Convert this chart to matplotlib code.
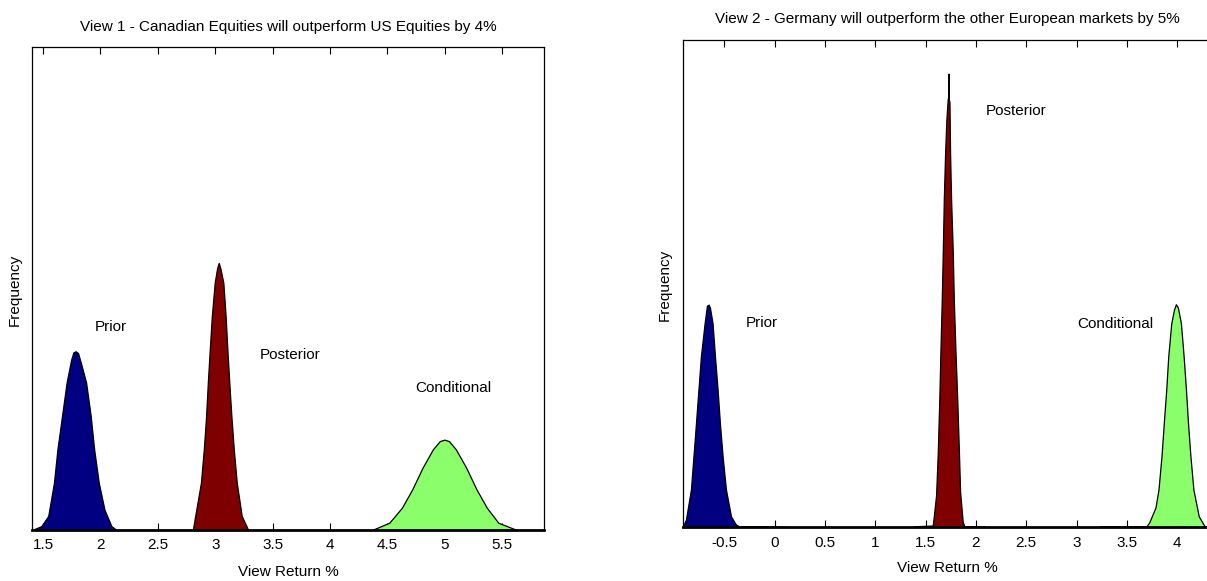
import matplotlib
matplotlib.use("Agg")
import matplotlib.pyplot as plt

plt.rcParams['font.family'] = ['Liberation Sans', 'DejaVu Sans']

# ---------------- View 1 data (View Return %, relative frequency) ----------------
v1_prior_x = [1.42, 1.49, 1.55, 1.60, 1.63, 1.67, 1.71, 1.75, 1.77, 1.79, 1.81,
              1.84, 1.88, 1.92, 1.95, 1.99, 2.04, 2.10, 2.14]
v1_prior_y = [0, 0.7, 2.8, 9.7, 16.6, 23.5, 30.4, 35.2, 36.7, 36.9, 36.5,
              34.0, 30.4, 23.5, 16.6, 9.7, 4.1, 0.7, 0]

v1_post_x = [2.81, 2.83, 2.88, 2.905, 2.925, 2.94, 2.957, 2.975, 3.00, 3.02, 3.035,
             3.05, 3.075, 3.095, 3.11, 3.127, 3.145, 3.166, 3.192, 3.235, 3.29]
v1_post_y = [0, 2.8, 9.7, 16.6, 23.5, 30.4, 37.3, 44.2, 51.1, 54.0, 55.2,
             54.0, 51.1, 44.2, 37.3, 30.4, 23.5, 16.6, 9.7, 2.8, 0]

v1_cond_x = [4.38, 4.52, 4.63, 4.72, 4.81, 4.90, 4.96, 5.00, 5.04, 5.10,
             5.19, 5.28, 5.37, 5.47, 5.61, 5.63]
v1_cond_y = [0, 1.4, 4.5, 8.3, 12.8, 16.6, 18.3, 18.6, 18.3, 16.6,
             12.8, 8.3, 4.5, 1.4, 0.1, 0]

# ---------------- View 2 data ----------------
v2_prior_x = [-0.91, -0.878, -0.828, -0.778, -0.729, -0.692, -0.669, -0.652, -0.639,
              -0.613, -0.589, -0.563, -0.540, -0.513, -0.480, -0.430, -0.381, -0.35,
              0.0, 0.11]
v2_prior_y = [0, 1.5, 7.7, 21.3, 35.0, 41.8, 45.4, 45.6, 45.0,
              41.8, 35.0, 28.2, 21.3, 14.5, 7.7, 2.2, 0.5, 0.15,
              0.15, 0]

v2_post_x = [1.39, 1.576, 1.609, 1.626, 1.642, 1.652, 1.666, 1.676, 1.686, 1.699,
             1.712, 1.725, 1.731, 1.732, 1.733, 1.742, 1.748, 1.758, 1.775, 1.785,
             1.802, 1.818, 1.835, 1.848, 1.874, 1.891, 2.09]
v2_post_y = [0.15, 0.3, 6.5, 15.4, 27.0, 35.9, 47.2, 56.8, 67.4, 76.9,
             83.8, 87.9, 88.0, 93.0, 88.0, 87.2, 76.9, 67.4, 56.4, 46.8,
             35.9, 27.0, 16.1, 7.2, 1.0, 0.15, 0.15]

v2_cond_x = [3.24, 3.70, 3.727, 3.79, 3.82, 3.85, 3.873, 3.897, 3.917, 3.947, 3.973,
             3.993, 4.013, 4.043, 4.07, 4.093, 4.113, 4.137, 4.167, 4.22, 4.277, 4.31]
v2_cond_y = [0.15, 0.15, 0.9, 4.0, 7.7, 14.6, 21.4, 28.2, 35.0, 41.8, 44.5,
             45.7, 45.0, 41.8, 35.0, 28.2, 21.4, 14.6, 7.7, 2.2, 0.2, 0.1]

titles = ["View 1 - Canadian Equities will outperform US Equities by 4%",
          "View 2 - Germany will outperform the other European markets by 5%"]
v1_ticks = [1.5, 2, 2.5, 3, 3.5, 4, 4.5, 5, 5.5]
v1_ticklabels = ["1.5", "2", "2.5", "3", "3.5", "4", "4.5", "5", "5.5"]
v2_ticks = [-0.5, 0, 0.5, 1, 1.5, 2, 2.5, 3, 3.5, 4]
v2_ticklabels = ["-0.5", "0", "0.5", "1", "1.5", "2", "2.5", "3", "3.5", "4"]
series_names = ["Prior", "Posterior", "Conditional"]
colors = ["#000080", "#7F0000", "#8BFF6B"]

FS = 11

fig = plt.figure(figsize=(12.07, 5.81), dpi=100)
fig.patch.set_facecolor("white")

ax1 = fig.add_axes([0.02676, 0.0878, 0.4239, 0.8313])
ax2 = fig.add_axes([0.5656, 0.0921, 0.4388, 0.8391])


def draw(ax, series, xlim, ticks, ticklabels, title, label_pos, ylab_pos, title_y, xlab_y):
    for (xs, ys), c in zip(series, colors):
        ax.fill_between(xs, ys, 0, facecolor=c, edgecolor="none", zorder=2)
        ax.plot(xs, ys, color="black", lw=0.9, zorder=3)
    ax.set_xlim(*xlim)
    ax.set_ylim(0, 100)
    ax.set_xticks(ticks)
    ax.set_xticklabels(ticklabels, fontsize=FS)
    ax.set_yticks([])
    ax.tick_params(axis="x", direction="in", length=5, width=0.8, top=True,
                   bottom=True, pad=6, colors="black")
    for s in ax.spines.values():
        s.set_linewidth(0.9)
    ax.spines["bottom"].set_linewidth(2.0)
    ax.set_title(title, fontsize=FS, y=title_y, va="center", pad=0)
    ax.set_xlabel("View Return %", fontsize=FS, va="center")
    ax.xaxis.set_label_coords(0.5, xlab_y)
    ax.set_ylabel("Frequency", fontsize=FS, va="center")
    ax.yaxis.set_label_coords(ylab_pos, 0.497)
    for name, (tx, ty) in zip(series_names, label_pos):
        ax.text(tx, ty, name, fontsize=FS, ha="left", va="center", zorder=4)


draw(ax1,
     [(v1_prior_x, v1_prior_y), (v1_post_x, v1_post_y), (v1_cond_x, v1_cond_y)],
     (1.407, 5.863), v1_ticks, v1_ticklabels, titles[0],
     [(1.953, 42.0), (3.39, 36.2), (4.74, 29.4)], -0.034, 1.041, -0.086)

draw(ax2,
     [(v2_prior_x, v2_prior_y), (v2_post_x, v2_post_y), (v2_cond_x, v2_cond_y)],
     (-0.915, 4.35), v2_ticks, v2_ticklabels, titles[1],
     [(-0.286, 42.0), (2.10, 85.4), (3.005, 41.7)], -0.033, 1.043, -0.084)

fig.savefig("out.png", dpi=100)
